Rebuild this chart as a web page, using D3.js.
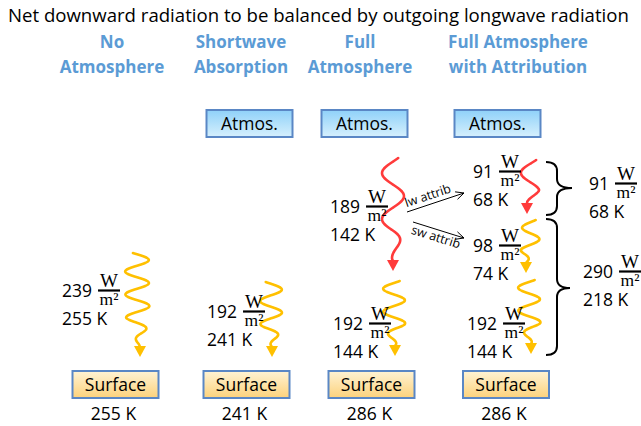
<html>
  <head>
    <meta charset="utf-8">
    <title>Net downward radiation</title>
    <script src="https://d3js.org/d3.v7.min.js"></script>
    <style type="text/css">
      body { margin: 0; background: #fff; }
      text { font-family: "Open Sans", sans-serif; }
      .num { font-size: 17.5px; fill: #000; }
      .unit { font-family: "Liberation Serif", serif; fill: #000; }
      .head { font-size: 17px; font-weight: bold; fill: #5b9bd5; }
    </style>
  </head>
  <body>
    <div id="chart"></div>
  </body>
</html>
<script type="text/javascript">
  const width = 641, height = 426;

  // data
  const headings = [["No", "Atmosphere"], ["Shortwave", "Absorption"], ["Full", "Atmosphere"], ["Full Atmosphere", "with Attribution"]];
  const surfaceTemps = [255, 241, 286, 286];
  const hasAtmos = [false, true, true, true];
  const fluxColumn = [0, 1, 2, 2, 3, 3, 3];
  const fluxWm2 = [239, 192, 189, 192, 91, 98, 192];
  const fluxK = [255, 241, 142, 144, 68, 74, 144];
  const fluxBand = ["sw", "sw", "lw", "sw", "lw", "sw", "sw"];
  const attribLabels = ["lw attrib", "sw attrib"];
  const braceWm2 = [91, 290];
  const braceK = [68, 218];

  // layout
  const cols = d3.range(headings.length);
  const headX = d3.scaleOrdinal(cols, [112, 241, 360, 518]);
  const surfX = d3.scaleOrdinal(cols, [115.5, 246.5, 371.5, 506]);
  const atmX = d3.scaleOrdinal(cols, [0, 249.5, 364.5, 497.5]);
  const bandColor = d3.scaleOrdinal(["sw", "lw"], ["#ffc000", "#ff3b3b"]);
  const bandPeriod = d3.scaleOrdinal(["sw", "lw"], [23, 46]);

  // wave arrows: centre x, top y, tip, amplitude, phase ; label anchor
  const fluxLayout = [
    {cx: 137, y0: 253, tx: 140, ty: 357, a: 12, ph: -0.34, lx: 62, ly: 297},
    {cx: 271, y0: 282, tx: 272, ty: 357, a: 11, ph: -0.5, lx: 207, ly: 318},
    {cx: 393, y0: 158, tx: 393, ty: 271, a: 11, ph: 2.65, lx: 330, ly: 213},
    {cx: 394, y0: 281, tx: 395, ty: 356, a: 11, ph: 2.6, lx: 333, ly: 330},
    {cx: 531, y0: 160, tx: 527, ty: 214, a: 10, ph: 2.6, lx: 473, ly: 178, p: 38},
    {cx: 531, y0: 220, tx: 526, ty: 273, a: 9, ph: 2.6, lx: 473, ly: 252},
    {cx: 529, y0: 280, tx: 531, ty: 354, a: 11, ph: 2.6, lx: 467, ly: 330}
  ];

  const svg = d3.select("#chart").append("svg")
    .attr("width", width)
    .attr("height", height);

  svg.append("rect").attr("width", width).attr("height", height).attr("fill", "#fff");

  const defs = svg.append("defs");
  const gA = defs.append("linearGradient").attr("id", "gAtm").attr("x1", 0).attr("y1", 0).attr("x2", 0).attr("y2", 1);
  gA.append("stop").attr("offset", "0%").attr("stop-color", "#8fd1f9");
  gA.append("stop").attr("offset", "100%").attr("stop-color", "#d6f0fd");
  const gS = defs.append("linearGradient").attr("id", "gSurf").attr("x1", 0).attr("y1", 0).attr("x2", 0).attr("y2", 1);
  gS.append("stop").attr("offset", "0%").attr("stop-color", "#fff3d4");
  gS.append("stop").attr("offset", "100%").attr("stop-color", "#fcd27c");

  // title
  svg.append("text")
    .attr("x", 8).attr("y", 22)
    .style("font-size", "18.6px")
    .text("Net downward radiation to be balanced by outgoing longwave radiation");

  // headings
  cols.forEach(function(i) {
    headings[i].forEach(function(line, j) {
      svg.append("text").attr("class", "head")
        .attr("x", headX(i)).attr("y", 48 + j * 25)
        .attr("text-anchor", "middle")
        .text(line);
    });
  });

  // boxes
  function box(cx, y, fill, label) {
    svg.append("rect")
      .attr("x", cx - 43).attr("y", y).attr("width", 86).attr("height", 27)
      .attr("fill", fill).attr("stroke", "#5a87c5").attr("stroke-width", 2);
    svg.append("text").attr("class", "num")
      .attr("x", cx).attr("y", y + 20)
      .attr("text-anchor", "middle")
      .text(label);
  }
  cols.forEach(function(i) {
    if (hasAtmos[i]) box(atmX(i), 110, "url(#gAtm)", "Atmos.");
    box(surfX(i), 371, "url(#gSurf)", "Surface");
    svg.append("text").attr("class", "num")
      .attr("x", surfX(i) - 2).attr("y", 420)
      .attr("text-anchor", "middle")
      .text(surfaceTemps[i] + " K");
  });

  // value label with W/m2 fraction
  function fluxLabel(x, y, w, k) {
    const t = svg.append("text").attr("class", "num").attr("x", x).attr("y", y).text(w);
    const nw = t.node().getComputedTextLength();
    const fx = x + nw + 6, fw = 22;
    svg.append("line")
      .attr("x1", fx).attr("x2", fx + fw)
      .attr("y1", y - 6.5).attr("y2", y - 6.5)
      .attr("stroke", "#000").attr("stroke-width", 2.2);
    svg.append("text").attr("class", "unit")
      .attr("x", fx + fw / 2).attr("y", y - 10)
      .attr("text-anchor", "middle").style("font-size", "19px")
      .text("W");
    svg.append("text").attr("class", "unit")
      .attr("x", fx + fw / 2).attr("y", y + 8)
      .attr("text-anchor", "middle").style("font-size", "17.5px")
      .text("m²");
    svg.append("text").attr("class", "num").attr("x", x).attr("y", y + 28).text(k + " K");
  }

  // wavy arrows
  const line = d3.line().x(function(d) { return d[0]; }).y(function(d) { return d[1]; }).curve(d3.curveBasis);
  fluxWm2.forEach(function(v, i) {
    const L = fluxLayout[i];
    const col = bandColor(fluxBand[i]);
    const P = L.p || bandPeriod(fluxBand[i]);
    const yb = L.ty - 11;
    const pts = d3.range(L.y0, yb + 0.5, 1).map(function(y) {
      const t = (y - L.y0) / (yb - L.y0);
      const env = t < 0.7 ? 1 : 1 - (t - 0.7) / 0.3 * 0.9;
      const c = L.cx + (L.tx - L.cx) * Math.pow(t, 3);
      return [c + L.a * env * Math.sin(2 * Math.PI * (y - L.y0) / P + L.ph), y];
    });
    pts[pts.length - 1] = [L.tx, yb + 1];
    svg.append("path")
      .attr("d", line(pts))
      .attr("fill", "none").attr("stroke", col)
      .attr("stroke-width", 2.6).attr("stroke-linecap", "round");
    svg.append("path")
      .attr("d", "M" + (L.tx - 6) + "," + yb + "L" + (L.tx + 6) + "," + yb + "L" + L.tx + "," + L.ty + "Z")
      .attr("fill", col);
    fluxLabel(L.lx, L.ly, v, fluxK[i]);
  });

  // attribution arrows
  const attribLayout = [
    {x1: 407, y1: 212, x2: 464, y2: 193, dy: -5},
    {x1: 413, y1: 222, x2: 464, y2: 238, dy: 12}
  ];
  attribLabels.forEach(function(lbl, i) {
    const A = attribLayout[i];
    svg.append("line")
      .attr("x1", A.x1).attr("y1", A.y1).attr("x2", A.x2).attr("y2", A.y2)
      .attr("stroke", "#000").attr("stroke-width", 1);
    const ang = Math.atan2(A.y2 - A.y1, A.x2 - A.x1);
    const hx = function(s) { return A.x2 - 9 * Math.cos(ang + s * 0.45); };
    const hy = function(s) { return A.y2 - 9 * Math.sin(ang + s * 0.45); };
    svg.append("path")
      .attr("d", "M" + hx(1) + "," + hy(1) + "L" + A.x2 + "," + A.y2 + "L" + hx(-1) + "," + hy(-1))
      .attr("fill", "none").attr("stroke", "#000").attr("stroke-width", 1);
    svg.append("text")
      .attr("transform", "translate(" + (A.x1 + 1) + "," + A.y1 + ") rotate(" + (ang * 180 / Math.PI) + ") translate(0," + A.dy + ")")
      .style("font-size", "12.5px")
      .text(lbl);
  });

  // braces
  function brace(x0, y0, y1, ym, xt) {
    const xm = x0 + 11, r = 9;
    const d = "M" + x0 + "," + y0 +
      "Q" + xm + "," + y0 + " " + xm + "," + (y0 + r) +
      "L" + xm + "," + (ym - r) +
      "Q" + xm + "," + ym + " " + xt + "," + ym +
      "Q" + xm + "," + ym + " " + xm + "," + (ym + r) +
      "L" + xm + "," + (y1 - r) +
      "Q" + xm + "," + y1 + " " + x0 + "," + y1;
    svg.append("path").attr("d", d)
      .attr("fill", "none").attr("stroke", "#000").attr("stroke-width", 2);
  }
  const braceLayout = [
    {y0: 162, y1: 215, ym: 188, xt: 572, lx: 589, ly: 190},
    {y0: 219, y1: 355, ym: 288, xt: 570, lx: 583, ly: 278}
  ];
  braceWm2.forEach(function(v, i) {
    const B = braceLayout[i];
    brace(546, B.y0, B.y1, B.ym, B.xt);
    fluxLabel(B.lx, B.ly, v, braceK[i]);
  });
</script>
